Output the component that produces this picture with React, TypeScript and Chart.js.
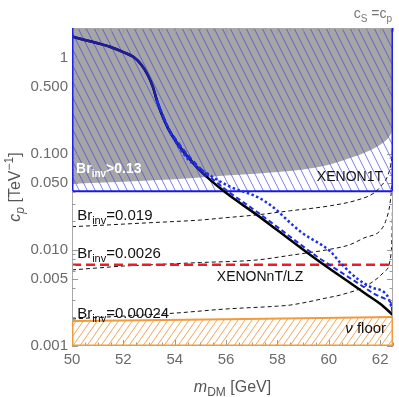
import React, { useEffect, useRef } from 'react';
import { Chart, registerables } from 'chart.js';

Chart.register(...registerables);

// ---------- data ----------
const MASS_MIN = 50;
const MASS_MAX = 62.5;
const CP_MIN = 0.001;
const CP_MAX = 2.05;

const xTickValues = [50, 52, 54, 56, 58, 60, 62];
const yTickValues = [0.001, 0.005, 0.01, 0.05, 0.1, 0.5, 1];
const yTickLabels = ['0.001', '0.005', '0.010', '0.050', '0.100', '0.500', '1'];

// relic-density curve (black solid)
const relicMass = [50, 50.5, 51, 51.5, 52, 52.4, 52.7, 52.95, 53.15, 53.3, 53.48, 53.74, 54.06, 54.39, 54.8, 55.24, 56.02, 57.2, 58, 59.55, 60.85, 61.5, 62, 62.5];
const relicCp = [1.67, 1.54, 1.42, 1.3, 1.15, 1.02, 0.85, 0.665, 0.5, 0.365, 0.265, 0.185, 0.134, 0.1016, 0.076, 0.058, 0.0389, 0.0232, 0.01605, 0.00787, 0.0045, 0.0034, 0.00275, 0.0021];

// blue solid (upper part)
const blueSolidMass = [50, 50.5, 51, 51.5, 52, 52.4, 52.7, 52.95, 53.15, 53.3, 53.48, 53.74, 54.06, 54.39, 54.8, 55.24];
const blueSolidCp = [1.67, 1.54, 1.42, 1.3, 1.15, 1.02, 0.85, 0.665, 0.5, 0.365, 0.265, 0.185, 0.134, 0.1016, 0.076, 0.058];

// blue dashed
const blueDashedMass = [53.3, 53.74, 54.06, 54.8, 55.24, 56.02, 57.2, 58, 59.55, 60.5, 61.2, 61.77, 62.2, 62.42, 62.5];
const blueDashedCp = [0.365, 0.19, 0.14, 0.08, 0.062, 0.0418, 0.025, 0.0173, 0.0085, 0.0058, 0.0044, 0.0035, 0.0031, 0.0028, 0.0021];

// blue dotted
const blueDottedMass = [53.3, 53.8, 54.46, 55.37, 56.15, 57.2, 57.72, 58.9, 60.07, 60.46, 61.12, 61.64, 62.29, 62.49];
const blueDottedCp = [0.36, 0.175, 0.092, 0.06, 0.0457, 0.0358, 0.0294, 0.0155, 0.0096, 0.0073, 0.005, 0.0041, 0.0033, 0.0023];

// Br_inv > 0.13 excluded region boundary (grey)
const brExclMass = [50, 52, 54, 56, 58, 59, 60, 60.8, 61.5, 62, 62.3, 62.5];
const brExclCp = [0.049, 0.0515, 0.0545, 0.0595, 0.065, 0.069, 0.077, 0.09, 0.106, 0.125, 0.145, 0.175];

// XENON1T bound
const xenon1tMass = [50, 62.5];
const xenon1tCp = [0.041, 0.041];

// XENONnT / LZ projection
const xenonNtMass = [50, 62.5];
const xenonNtCp = [0.007, 0.007];

// neutrino floor
const nuFloorMass = [50, 56, 62.5];
const nuFloorCp = [0.00182, 0.0019, 0.002];

// Br_inv contours
const br019Mass = [50, 51, 52, 53, 54, 55, 56, 57.2, 58.5, 60.07, 61.12, 61.76, 62.05, 62.3, 62.45, 62.5];
const br019Cp = [0.0175, 0.018, 0.0186, 0.0192, 0.0198, 0.0205, 0.0217, 0.0232, 0.0256, 0.0289, 0.0332, 0.0392, 0.047, 0.06, 0.09, 0.13];

const br0026Mass = [50, 51, 52, 53, 54, 55, 57.2, 58.5, 60.07, 60.8, 61.36, 62.03, 62.23, 62.38, 62.45, 62.5];
const br0026Cp = [0.0062, 0.0065, 0.0068, 0.007, 0.0072, 0.0074, 0.00787, 0.0088, 0.0102, 0.0113, 0.0133, 0.0162, 0.0205, 0.03, 0.045, 0.07];

const br00024Mass = [50, 52, 54, 56, 58, 58.5, 60, 60.46, 61.5, 62.15, 62.42, 62.46, 62.48, 62.5];
const br00024Cp = [0.00191, 0.00205, 0.0022, 0.00243, 0.0026, 0.00267, 0.0032, 0.0034, 0.0043, 0.0059, 0.0089, 0.0143, 0.03, 0.08];

// text annotations (anchor in data coordinates)
type Part = { t: string; sub?: boolean; sup?: boolean; it?: boolean };
const annotations: { parts: Part[]; x: number; y: number; align: 'left' | 'right' | 'center'; size: number; color: string; bold?: boolean }[] = [
  { parts: [{ t: 'Br' }, { t: 'inv', sub: true }, { t: '>0.13' }], x: 50.16, y: 0.0634, align: 'left', size: 14, color: '#ffffff', bold: true },
  { parts: [{ t: 'XENON1T' }], x: 62.11, y: 0.0524, align: 'right', size: 14, color: '#111111' },
  { parts: [{ t: 'Br' }, { t: 'inv', sub: true }, { t: '=0.019' }], x: 50.2, y: 0.0205, align: 'left', size: 15, color: '#111111' },
  { parts: [{ t: 'Br' }, { t: 'inv', sub: true }, { t: '=0.0026' }], x: 50.2, y: 0.00825, align: 'left', size: 15, color: '#111111' },
  { parts: [{ t: 'XENONnT/LZ' }], x: 55.64, y: 0.00476, align: 'left', size: 14, color: '#111111' },
  { parts: [{ t: 'Br' }, { t: 'inv', sub: true }, { t: '=0.00024' }], x: 50.2, y: 0.00196, align: 'left', size: 15, color: '#111111' },
  { parts: [{ t: 'ν', it: true }, { t: ' floor' }], x: 62.23, y: 0.00137, align: 'right', size: 15, color: '#111111' },
];

const FONT = '"Liberation Sans", Arial, sans-serif';

const pts = (xs: number[], ys: number[]) => xs.map((x, i) => ({ x, y: ys[i] }));

function drawRich(ctx: CanvasRenderingContext2D, parts: Part[], x: number, y: number, size: number, color: string, align: string, bold = false) {
  const subSize = Math.round(size * 0.72);
  const fontFor = (p: Part) => `${p.it ? 'italic ' : ''}${bold ? 'bold ' : ''}${p.sub || p.sup ? subSize : size}px ${FONT}`;
  let total = 0;
  for (const p of parts) {
    ctx.font = fontFor(p);
    total += ctx.measureText(p.t).width;
  }
  let cx = align === 'left' ? x : align === 'center' ? x - total / 2 : x - total;
  ctx.fillStyle = color;
  ctx.textAlign = 'left';
  ctx.textBaseline = 'alphabetic';
  for (const p of parts) {
    ctx.font = fontFor(p);
    const dy = p.sub ? size * 0.28 : p.sup ? -size * 0.42 : 0;
    ctx.fillText(p.t, cx, y + dy);
    cx += ctx.measureText(p.t).width;
  }
}

function makeBluePattern(): CanvasPattern | string {
  const c = document.createElement('canvas');
  c.width = 8;
  c.height = 16;
  const g = c.getContext('2d');
  if (!g) return 'rgba(80,80,230,0.3)';
  g.strokeStyle = 'rgba(70,70,225,0.7)';
  g.lineWidth = 1;
  for (let k = -1; k <= 1; k++) {
    g.beginPath();
    g.moveTo(k * 8, 0);
    g.lineTo(k * 8 + 8, 16);
    g.stroke();
  }
  return g.createPattern(c, 'repeat') || 'rgba(80,80,230,0.3)';
}

function makeOrangePattern(): CanvasPattern | string {
  const c = document.createElement('canvas');
  c.width = 7;
  c.height = 10;
  const g = c.getContext('2d');
  if (!g) return 'rgba(245,160,80,0.3)';
  g.strokeStyle = '#f5a45a';
  g.lineWidth = 1;
  for (let k = -1; k <= 1; k++) {
    g.beginPath();
    g.moveTo(k * 7, 10);
    g.lineTo(k * 7 + 7, 0);
    g.stroke();
  }
  return g.createPattern(c, 'repeat') || 'rgba(245,160,80,0.3)';
}

const overlayPlugin = {
  id: 'overlay',
  afterDatasetsDraw(chart: any) {
    const { ctx, chartArea: ca, scales } = chart;
    const xs = scales.x;
    const ys = scales.y;
    ctx.save();

    // frame
    ctx.strokeStyle = '#a8a8a8';
    ctx.lineWidth = 1;
    ctx.strokeRect(ca.left + 0.5, ca.top + 0.5, ca.right - ca.left - 1, ca.bottom - ca.top - 1);

    // tick marks (inward)
    ctx.strokeStyle = '#9a9a9a';
    ctx.beginPath();
    for (let m = MASS_MIN; m <= MASS_MAX + 1e-9; m += 0.5) {
      const px = Math.round(xs.getPixelForValue(m)) + 0.5;
      const major = Math.abs(m / 2 - Math.round(m / 2)) < 1e-6;
      const len = major ? 6 : 3.5;
      ctx.moveTo(px, ca.bottom);
      ctx.lineTo(px, ca.bottom - len);
      ctx.moveTo(px, ca.top);
      ctx.lineTo(px, ca.top + len);
    }
    for (let d = -3; d <= 0; d++) {
      for (let k = 1; k <= 9; k++) {
        const v = k * Math.pow(10, d);
        if (v < CP_MIN - 1e-12 || v > CP_MAX) continue;
        const py = Math.round(ys.getPixelForValue(v)) + 0.5;
        const len = k === 1 || k === 5 ? 6 : 3.5;
        ctx.moveTo(ca.left, py);
        ctx.lineTo(ca.left + len, py);
        ctx.moveTo(ca.right, py);
        ctx.lineTo(ca.right - len, py);
      }
    }
    ctx.stroke();

    // blue excluded box edges
    const yTop = ca.top;
    const yX1 = ys.getPixelForValue(xenon1tCp[0]);
    ctx.strokeStyle = '#2020e6';
    ctx.lineWidth = 1.5;
    ctx.beginPath();
    ctx.moveTo(ca.left + 0.75, yTop);
    ctx.lineTo(ca.left + 0.75, yX1);
    ctx.moveTo(ca.right - 0.75, yTop);
    ctx.lineTo(ca.right - 0.75, yX1);
    ctx.stroke();

    // orange box edges
    const yF0 = ys.getPixelForValue(nuFloorCp[0]);
    const yF1 = ys.getPixelForValue(nuFloorCp[nuFloorCp.length - 1]);
    ctx.strokeStyle = '#f39a3a';
    ctx.lineWidth = 1.5;
    ctx.beginPath();
    ctx.moveTo(ca.left + 0.75, yF0);
    ctx.lineTo(ca.left + 0.75, ca.bottom - 0.75);
    ctx.lineTo(ca.right - 0.75, ca.bottom - 0.75);
    ctx.lineTo(ca.right - 0.75, yF1);
    ctx.stroke();

    // annotations
    for (const a of annotations) {
      drawRich(ctx, a.parts, xs.getPixelForValue(a.x), ys.getPixelForValue(a.y), a.size, a.color, a.align, !!a.bold);
    }

    // top-right note
    drawRich(ctx, [{ t: 'c' }, { t: 'S', sub: true }, { t: ' =' }, { t: 'c' }, { t: 'p', sub: true }], ca.right - 1, 18, 14, '#777777', 'right');

    // x axis title
    drawRich(ctx, [{ t: 'm', it: true }, { t: 'DM', sub: true }, { t: ' [GeV]' }], (ca.left + ca.right) / 2, 392, 16, '#555555', 'center');

    // y axis title (rotated)
    ctx.translate(20, (ca.top + ca.bottom) / 2);
    ctx.rotate(-Math.PI / 2);
    drawRich(ctx, [{ t: 'c', it: true }, { t: 'p', sub: true, it: true }, { t: ' [TeV' }, { t: '−1', sup: true }, { t: ']' }], 0, 0, 16, '#555555', 'center');

    ctx.restore();
  },
};

export default function App() {
  const ref = useRef<HTMLCanvasElement | null>(null);

  useEffect(() => {
    const canvas = ref.current;
    if (!canvas) return;
    const bluePattern = makeBluePattern();
    const orangePattern = makeOrangePattern();
    const line = { pointRadius: 0, pointHoverRadius: 0, cubicInterpolationMode: 'monotone' as const };

    const chart = new Chart(canvas, {
      type: 'line',
      data: {
        datasets: [
          { label: 'Br excl', data: pts(brExclMass, brExclCp), fill: 'end', backgroundColor: '#a6a6a6', borderWidth: 0, borderColor: 'rgba(0,0,0,0)', order: 10, ...line },
          { label: 'XENON1T', data: pts(xenon1tMass, xenon1tCp), fill: 'end', backgroundColor: bluePattern as any, borderColor: '#1818f0', borderWidth: 2, order: 9, ...line },
          { label: 'nu floor', data: pts(nuFloorMass, nuFloorCp), fill: 'start', backgroundColor: orangePattern as any, borderColor: '#f39a3a', borderWidth: 2, order: 8, ...line },
          { label: 'Br 0.019', data: pts(br019Mass, br019Cp), fill: false, borderColor: '#111111', borderWidth: 1, borderDash: [4, 3], order: 7, ...line },
          { label: 'Br 0.0026', data: pts(br0026Mass, br0026Cp), fill: false, borderColor: '#111111', borderWidth: 1, borderDash: [4, 3], order: 7, ...line },
          { label: 'Br 0.00024', data: pts(br00024Mass, br00024Cp), fill: false, borderColor: '#111111', borderWidth: 1, borderDash: [4, 3], order: 7, ...line },
          { label: 'XENONnT/LZ', data: pts(xenonNtMass, xenonNtCp), fill: false, borderColor: '#ec1c24', borderWidth: 2.5, borderDash: [9, 5], order: 6, ...line },
          { label: 'relic', data: pts(relicMass, relicCp), fill: false, borderColor: '#000000', borderWidth: 2.5, order: 5, ...line },
          { label: 'blue solid', data: pts(blueSolidMass, blueSolidCp), fill: false, borderColor: '#1e1e9e', borderWidth: 2.5, order: 4, ...line },
          { label: 'blue dashed', data: pts(blueDashedMass, blueDashedCp), fill: false, borderColor: '#1c2ee0', borderWidth: 2, borderDash: [5, 3], order: 3, ...line },
          { label: 'blue dotted', data: pts(blueDottedMass, blueDottedCp), fill: false, borderColor: '#1a30f0', borderWidth: 2.5, borderDash: [2.5, 2.5], order: 2, ...line },
        ],
      },
      options: {
        animation: false,
        responsive: false,
        devicePixelRatio: 1,
        events: [],
        layout: { padding: { top: 28, right: 6, left: 0, bottom: 0 } },
        plugins: { legend: { display: false }, tooltip: { enabled: false }, title: { display: false } },
        scales: {
          x: {
            type: 'linear',
            min: MASS_MIN,
            max: MASS_MAX,
            afterBuildTicks: (s: any) => { s.ticks = xTickValues.map((v) => ({ value: v })); },
            afterFit: (s: any) => { s.height = 51; },
            ticks: { font: { size: 15, family: FONT }, color: '#6b6b6b', padding: 5, maxRotation: 0, autoSkip: false, callback: (v: any) => String(v) },
            grid: { display: false, drawTicks: false },
            border: { display: false },
          },
          y: {
            type: 'logarithmic',
            min: CP_MIN,
            max: CP_MAX,
            afterBuildTicks: (s: any) => { s.ticks = yTickValues.map((v) => ({ value: v })); },
            afterFit: (s: any) => { s.width = 72; },
            ticks: {
              font: { size: 15, family: FONT },
              color: '#6b6b6b',
              padding: 4,
              autoSkip: false,
              callback: (v: any) => {
                const i = yTickValues.findIndex((t) => Math.abs(t - Number(v)) < 1e-9);
                return i >= 0 ? yTickLabels[i] : '';
              },
            },
            grid: { display: false, drawTicks: false },
            border: { display: false },
          },
        },
      },
      plugins: [overlayPlugin],
    } as any);

    return () => chart.destroy();
  }, []);

  return (
    <div style={{ position: 'absolute', left: 0, top: 0, width: 399, height: 397, background: '#ffffff' }}>
      <canvas ref={ref} width={399} height={397} style={{ display: 'block', width: 399, height: 397 }} />
    </div>
  );
}
